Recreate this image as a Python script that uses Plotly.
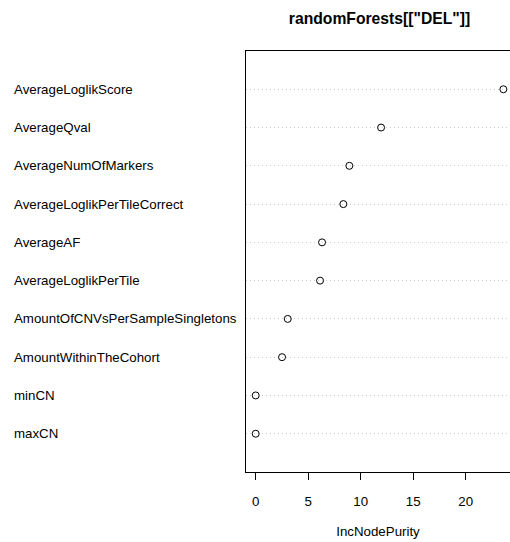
import plotly.graph_objects as go

# Data (bottom to top as drawn in the dotchart)
features = ["maxCN", "minCN", "AmountWithinTheCohort", "AmountOfCNVsPerSampleSingletons",
            "AverageLoglikPerTile", "AverageAF", "AverageLoglikPerTileCorrect",
            "AverageNumOfMarkers", "AverageQval", "AverageLoglikScore"]
inc_node_purity = [0.0, 0.0, 2.51, 3.05, 6.13, 6.32, 8.35, 8.92, 11.94, 23.59]
x_ticks = [0, 5, 10, 15, 20]
title_text = 'randomForests[["DEL"]]'
x_label = "IncNodePurity"

W, H = 510, 542
L, R, T, B = 246, 0, 51, 70
FONT = "Liberation Sans, Arial, Helvetica, sans-serif"
FS = 13.3

positions = list(range(1, len(features) + 1))

fig = go.Figure()
fig.add_trace(go.Scatter(
    x=inc_node_purity, y=positions, mode="markers",
    marker=dict(symbol="circle-open", size=7, color="black", line=dict(width=1, color="black")),
    showlegend=False, hoverinfo="skip",
))

# left-aligned row labels
for name, p in zip(features, positions):
    fig.add_annotation(x=(11.5 - L) / (W - L - R), xref="paper", y=p, yref="y",
                       text=name, showarrow=False, xanchor="left", yanchor="middle",
                       font=dict(family=FONT, size=FS, color="black"))

fig.update_layout(
    width=W, height=H,
    margin=dict(l=L, r=R, t=T, b=B, pad=0),
    paper_bgcolor="white", plot_bgcolor="white",
    font=dict(family=FONT, size=FS, color="black"),
    title=dict(text="<b>" + title_text + "</b>", x=(379.5 - L) / (W - L - R), xref="paper",
               xanchor="center", y=1 - 19 / H, yref="container", yanchor="middle",
               font=dict(family=FONT, size=15.7, color="black")),
)
fig.update_xaxes(
    range=[(L - 255.7) / 10.5, (W - 255.7) / 10.5],
    tickvals=x_ticks, ticks="outside", ticklen=7, tickwidth=1, tickcolor="black",
    ticklabelstandoff=10,
    showline=True, linecolor="black", linewidth=1, mirror=True,
    showgrid=False, zeroline=False,
    tickfont=dict(family=FONT, size=FS, color="black"),
    title=dict(text=x_label, standoff=18, font=dict(family=FONT, size=FS, color="black")),
)
fig.update_yaxes(
    range=[0, len(features) + 1],
    tickvals=positions, showticklabels=False, ticks="",
    showline=True, linecolor="black", linewidth=1,
    showgrid=True, gridcolor="#cccccc", griddash="1px,3px", gridwidth=1,
    zeroline=False,
)

fig.write_html("out.html")
